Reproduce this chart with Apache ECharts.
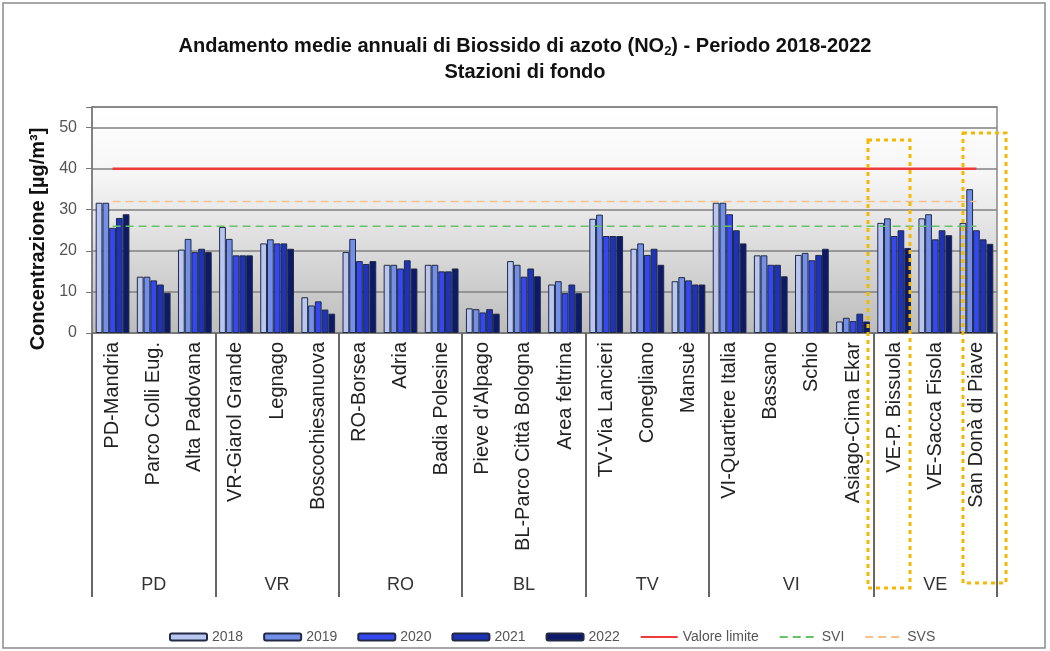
<!DOCTYPE html>
<html>
<head>
<meta charset="utf-8">
<script src="https://cdn.jsdelivr.net/npm/echarts@6/dist/echarts.min.js"></script>
<style>
  html, body { margin: 0; padding: 0; background: #fff; }
  #main { width: 1050px; height: 651px; }
</style>
</head>
<body>
<div id="main"></div>
<script>
// stazioni di fondo, raggruppate per provincia
var stations = ['PD-Mandria', 'Parco Colli Eug.', 'Alta Padovana',
    'VR-Giarol Grande', 'Legnago', 'Boscochiesanuova',
    'RO-Borsea', 'Adria', 'Badia Polesine',
    "Pieve d'Alpago", 'BL-Parco Città Bologna', 'Area feltrina',
    'TV-Via Lancieri', 'Conegliano', 'Mansuè',
    'VI-Quartiere Italia', 'Bassano', 'Schio', 'Asiago-Cima Ekar',
    'VE-P. Bissuola', 'VE-Sacca Fisola', 'San Donà di Piave'];
var groups = ['PD', 'VR', 'RO', 'BL', 'TV', 'VI', 'VE'];
var groupSizes = [3, 3, 3, 3, 3, 4, 3];

// medie annuali NO2 (µg/m³)
var v2018 = [31.7, 13.7, 20.3, 25.8, 21.8, 8.7, 19.7, 16.6, 16.6, 6.0, 17.5, 11.8, 27.8, 20.5, 12.6, 31.7, 18.9, 19.0, 2.8, 26.8, 27.9, 26.8];
var v2019 = [31.7, 13.7, 22.9, 22.9, 22.8, 6.7, 22.9, 16.6, 16.6, 5.8, 16.6, 12.6, 28.8, 21.8, 13.6, 31.7, 18.9, 19.5, 3.7, 27.9, 28.9, 35.0];
var v2020 = [25.6, 12.8, 19.7, 18.9, 21.8, 7.7, 17.5, 15.7, 15.0, 5.0, 13.7, 9.7, 23.6, 19.0, 12.8, 28.9, 16.6, 17.7, 2.9, 23.6, 22.8, 25.0];
var v2021 = [28.0, 11.8, 20.5, 18.9, 21.8, 5.7, 16.8, 17.7, 15.0, 5.8, 15.7, 11.8, 23.6, 20.5, 11.8, 25.0, 16.6, 19.0, 4.7, 25.0, 25.0, 22.8];
var v2022 = [28.9, 9.8, 19.7, 18.9, 20.5, 4.7, 17.5, 15.7, 15.7, 4.7, 13.8, 9.7, 23.6, 16.6, 11.8, 21.8, 13.8, 20.5, 2.8, 20.7, 23.8, 21.7];

var valoreLimite = 40;
var svi = 26;
var svs = 32;

var yearNames = ['2018', '2019', '2020', '2021', '2022'];
var yearValues = [v2018, v2019, v2020, v2021, v2022];
var yearColors = ['#b9c6f2', '#7290ea', '#3348f0', '#1d33b8', '#0d1a6b'];

var myChart = echarts.init(document.getElementById('main'));

// confini e centri dei gruppi sull'asse
var bounds = [0], centers = [];
var acc = 0;
for (var i = 0; i < groupSizes.length; i++) {
    centers.push(acc + groupSizes[i] / 2);
    acc += groupSizes[i];
    bounds.push(acc);
}

var series = [];
for (var k = 0; k < yearNames.length; k++) {
    series.push({
        name: yearNames[k],
        type: 'bar',
        barGap: '0%',
        barCategoryGap: '18%',
        data: yearValues[k],
        itemStyle: {
            color: yearColors[k],
            borderColor: '#222a44',
            borderWidth: 1
        }
    });
}
var constLine = function (v) {
    return stations.map(function () { return v; });
};
// soglie: linee senza simbolo (anche in legenda)
series.push({
    name: 'Valore limite', type: 'line', symbol: 'none',
    data: constLine(valoreLimite),
    lineStyle: { color: '#ee3b3b', width: 2.5 },
    itemStyle: { color: '#ee3b3b', opacity: 0 }, z: 5
});
series.push({
    name: 'SVI', type: 'line', symbol: 'none',
    data: constLine(svi),
    lineStyle: { color: '#66c266', width: 1.5, type: [8, 5] },
    itemStyle: { color: '#66c266', opacity: 0 }, z: 5
});
series.push({
    name: 'SVS', type: 'line', symbol: 'none',
    data: constLine(svs),
    lineStyle: { color: '#f5c08a', width: 1.5, type: [8, 5] },
    itemStyle: { color: '#f5c08a', opacity: 0 }, z: 5
});

var option = {
    backgroundColor: '#ffffff',
    animation: false,
    title: {
        text: 'Andamento medie annuali di Biossido di azoto (NO{sub|2}) - Periodo 2018-2022\nStazioni di fondo',
        left: 'center',
        top: 33,
        padding: [0, 0, 0, 38],
        textStyle: {
            fontFamily: 'Liberation Sans',
            fontSize: 20,
            fontWeight: 'bold',
            color: '#111',
            lineHeight: 26,
            rich: {
                sub: { fontFamily: 'Liberation Sans', fontSize: 13, fontWeight: 'bold', color: '#111', padding: [10, 0, 0, 0] }
            }
        }
    },
    legend: {
        left: 164,
        top: 625,
        itemWidth: 37,
        itemHeight: 7,
        itemGap: 20,
        textStyle: { fontFamily: 'Liberation Sans', fontSize: 14, color: '#555' }
    },
    grid: {
        left: 92, right: 53, top: 107, bottom: 318,
        show: true,
        borderColor: '#888',
        borderWidth: 1.5,
        backgroundColor: new echarts.graphic.LinearGradient(0, 0, 0, 1, [
            { offset: 0, color: '#ffffff' },
            { offset: 0.3, color: '#f6f6f6' },
            { offset: 1, color: '#bcbcbc' }
        ])
    },
    xAxis: [{
        type: 'category',
        data: stations,
        position: 'bottom',
        axisLine: { lineStyle: { color: '#777', width: 1.5 } },
        axisTick: { length: 227, lineStyle: { color: '#999', width: 1.5 } },
        axisLabel: {
            interval: 0, rotate: 90, margin: 9,
            fontFamily: 'Liberation Sans', fontSize: 20, color: '#222'
        }
    }, {
        type: 'value',
        min: 0, max: stations.length,
        position: 'bottom',
        axisLine: { show: false },
        splitLine: { show: false },
        axisTick: { customValues: bounds, length: 264, lineStyle: { color: '#666', width: 2 } },
        axisLabel: {
            customValues: centers, margin: 243,
            fontFamily: 'Liberation Sans', fontSize: 18, color: '#333',
            formatter: function (v) { return groups[centers.indexOf(v)]; }
        }
    }],
    yAxis: {
        type: 'value',
        min: 0, max: 55, interval: 10,
        name: 'Concentrazione [µg/m³]',
        nameLocation: 'middle',
        nameRotate: 90,
        nameGap: 44,
        nameTextStyle: {
            fontFamily: 'Liberation Sans', fontSize: 20, fontWeight: 'bold', color: '#111',
            padding: [0, 38, 0, 0]
        },
        axisLine: { show: true, lineStyle: { color: '#777', width: 1.5 } },
        axisTick: { show: true, length: 6, lineStyle: { color: '#777' } },
        axisLabel: {
            margin: 15,
            fontFamily: 'Liberation Sans', fontSize: 16, color: '#555',
            formatter: function (v) { return v > 50 ? '' : v; }
        },
        splitLine: { lineStyle: { color: '#808080', width: 1.5 } }
    },
    graphic: [{
        type: 'rect',
        shape: { x: 3, y: 3, width: 1042, height: 645 },
        style: { fill: 'none', stroke: '#8a8a8a', lineWidth: 1.5 },
        silent: true
    }, {
        type: 'rect',
        shape: { x: 868, y: 140, width: 42, height: 448 },
        style: { fill: 'none', stroke: '#f5b800', lineWidth: 3, lineDash: [4, 4] },
        z: 100, silent: true
    }, {
        type: 'rect',
        shape: { x: 963, y: 133, width: 43, height: 450 },
        style: { fill: 'none', stroke: '#f5b800', lineWidth: 3, lineDash: [4, 4] },
        z: 100, silent: true
    }],
    series: series
};
myChart.setOption(option);
</script>
</body>
</html>
